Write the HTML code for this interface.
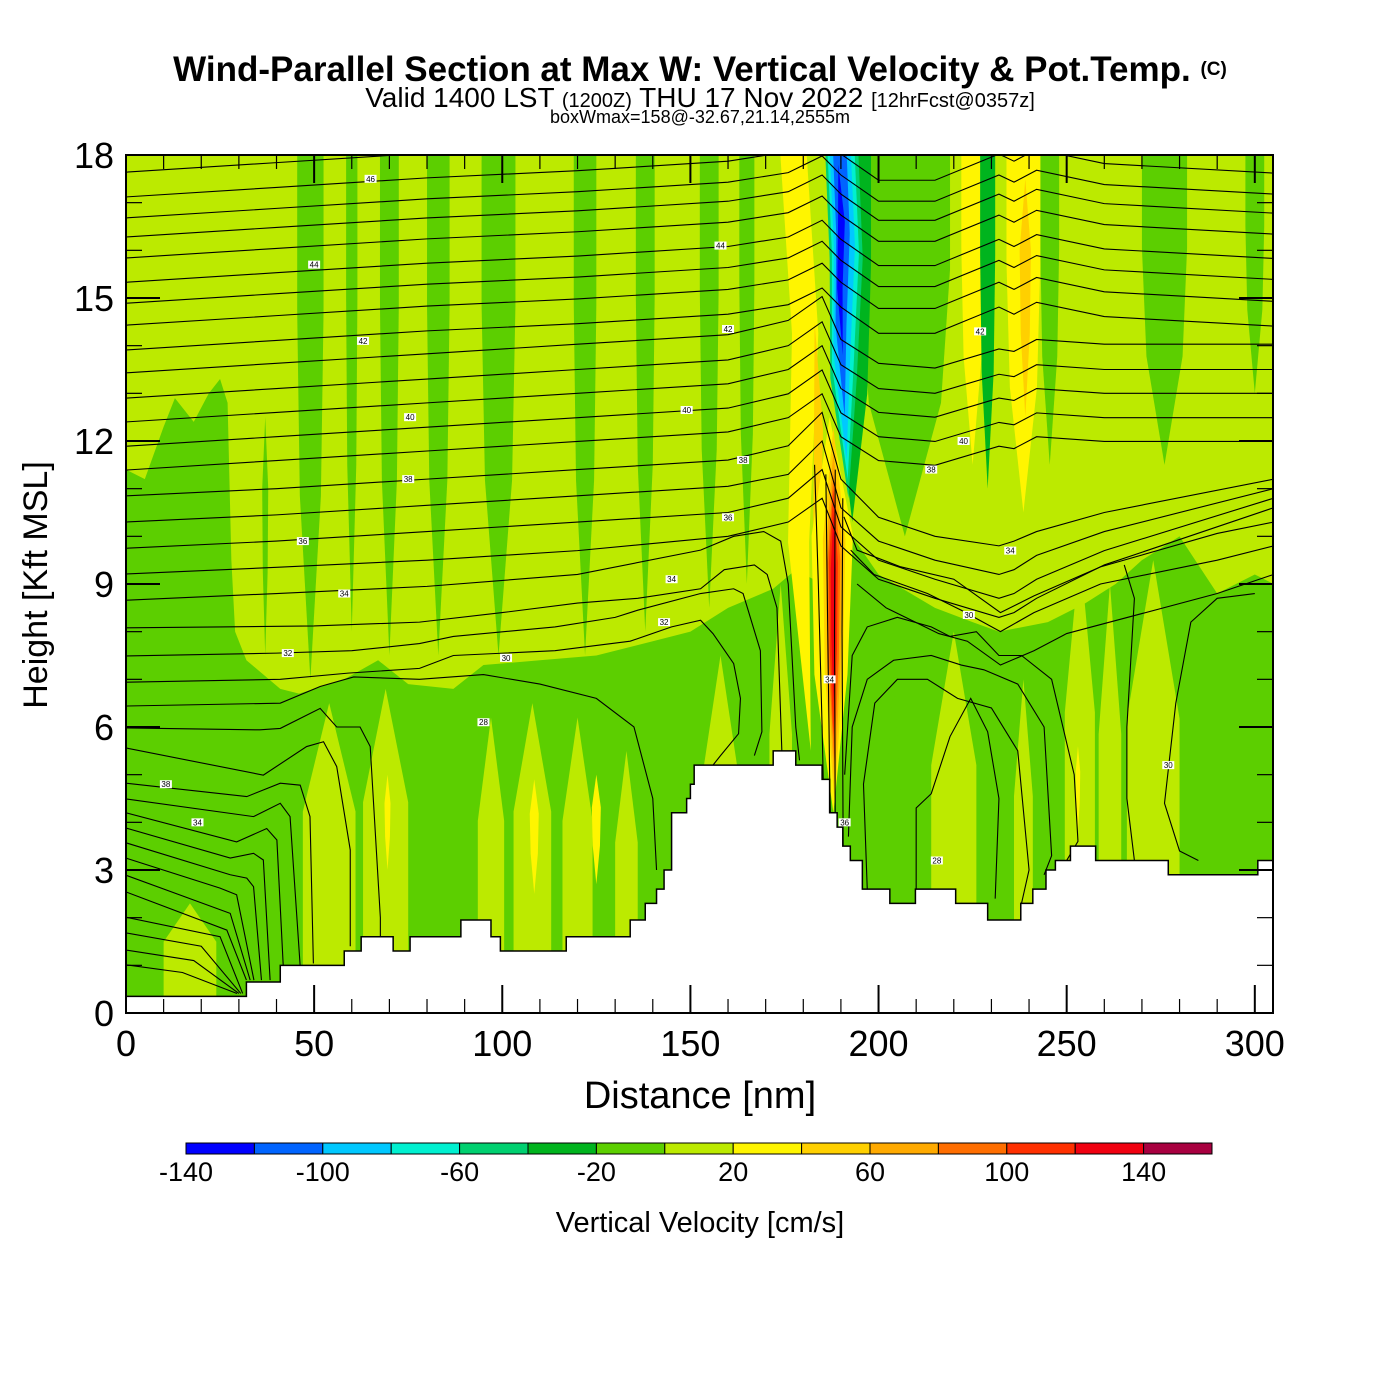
<!DOCTYPE html>
<html><head><meta charset="utf-8"><style>
html,body{margin:0;padding:0;background:#fff}
svg{display:block}
text{font-family:"Liberation Sans",sans-serif}
</style></head><body>
<svg id="chart" width="1400" height="1400" viewBox="0 0 1400 1400">
<text x="700" y="81" font-size="35" font-weight="bold" text-anchor="middle">Wind-Parallel Section at Max W: Vertical Velocity &amp; Pot.Temp. <tspan font-size="19" dy="-6">(C)</tspan></text>
<text x="700" y="107" font-size="28" text-anchor="middle">Valid 1400 LST <tspan font-size="20">(1200Z)</tspan> THU 17 Nov 2022 <tspan font-size="20">[12hrFcst@0357z]</tspan></text>
<text x="700" y="123" font-size="18" text-anchor="middle">boxWmax=158@-32.67,21.14,2555m</text>
<defs><clipPath id="pc"><rect x="126" y="155" width="1147" height="858"/></clipPath></defs>
<g id="plot" clip-path="url(#pc)"></g>
<g id="axes"></g>
<text x="700" y="1108" font-size="38" text-anchor="middle">Distance [nm]</text>
<text transform="translate(47,585) rotate(-90)" font-size="34" text-anchor="middle">Height [Kft MSL]</text>
<g id="cbar"></g>
<text x="700" y="1232" font-size="29" text-anchor="middle">Vertical Velocity [cm/s]</text>
</svg>
<script>
// ---- data ----
const xTicks = [0, 50, 100, 150, 200, 250, 300];
const yTicks = [0, 3, 6, 9, 12, 15, 18];
const cbLabels = [-140, -100, -60, -20, 20, 60, 100, 140];
const wBounds = [-140,-120,-100,-80,-60,-40,-20,0,20,40,60,80,100,120,140,160];
const wColors = ["#0000ff","#0064ff","#00c8ff","#00f0d0","#00d070","#00b41e","#5ccf00","#bcea00","#fff500","#ffd000","#ffaa00","#ff6e00","#ff3000","#f00010","#a80040"];
// green (w<0) region in lower atmosphere: [nm, kft]
const greenRegionNm  = [0,5,10,13,18,22,25,27,28,29,32,41,46,58,67,75,87,95,110,125,140,150,160,172,178,185,190,193,200,215,225,232,245,255,263,270,280,290,300,305,305,0];
const greenRegionKft = [11.4,11.2,12.3,12.9,12.4,13.0,13.3,12.8,9.5,8.0,7.4,6.8,6.7,7.0,7.4,6.9,6.8,7.3,7.4,7.5,7.8,8.0,8.5,8.9,9.3,9.0,8.0,10.0,9.2,8.5,8.2,8.0,8.2,8.6,9.0,9.5,10.0,8.8,9.2,9.0,0,0];
// vertical-velocity streaks
const streakTopNm = [37,49,60,70,83,99,122,138,155,165, 17,54,69,97,108,120,133,158,174, 69.5,125,108.5, 220,238.5,253.5,261.5,273,204, 253, 207,245.5,276,300,225,238.5,239,229, 177,183, 193,190,189.8,189.6,189.5,189.3, 187,188,188,188,188,188];
const streakBotNm = [37,49,60,70,83,99,122,138,155,165, 17,54,69,97,108,120,133,158,174, 69.5,125,108.5, 220,238.5,253.5,261.5,273,204, 253, 207,245.5,276,300,225,238.5,239,229, 182,184.5, 193,192,191.8,191.5,191,190.5, 188,188.3,188.3,188.2,188,188];
const streakHalfNm = [0.8,3.5,1.5,2.5,3,4.5,3,2.5,2.5,2, 7,7,6,3.5,5,4,3,5,3, 0.8,1.2,1.2, 6,2.5,4,3,7,2, 0.6, 12,2.5,6,2.5,3,4.5,1.5,2, 3.5,1.2, 5,4.4,3.6,2.8,1.8,0.9, 5.5,3,2.2,1.7,1.2,0.7];
const streakTopKft = [12.5,18,18,18,18,18,18,18,18,18, 2.3,6.5,6.8,6.2,6.5,6.2,5.5,7.5,9, 5.0,5.0,4.9, 8,7,9.7,9,9.5,7, 5.6, 18,18,18,18,18,18,17.5,18, 18,14.5, 18,18,18,18,18,17.8, 12.5,12.3,11.8,11.3,11,10.5];
const streakBotKft = [7.5,7,8,7.5,7.5,7.5,7.5,8,8.5,9, 0,0,0,0,0,0,0,0,0, 3.0,2.7,2.5, 0,0,0,0,0,0, 3.8, 10,11.5,11.5,13,11.5,10.5,12.5,11, 5.5,7, 10.3,10.8,11.2,11.6,12.5,13.8, 4.2,4.4,4.8,5.3,5.8,6.5];
const streakW = [-10,-10,-10,-10,-10,-10,-10,-10,-10,-10, 10,10,10,10,10,10,10,10,10, 30,30,30, 10,10,10,10,10,-10, 30, -10,-10,-10,-10,30,30,50,-30, 30,50, -30,-50,-70,-90,-110,-130, 30,50,70,90,110,130];
// terrain
const terrainNm  = [0,32,32,41,41,58,58,62.5,62.5,71,71,75.5,75.5,89,89,97,97,99.5,99.5,117,117,134,134,138,138,141,141,143,143,145,145,149,149,150,150,151,151,172,172,178,178,185,185,187,187,189,189,190.5,190.5,192.5,192.5,195.7,195.7,203,203,209.8,209.8,220.5,220.5,229,229,237.8,237.8,241,241,244.5,244.5,247,247,251,251,257.7,257.7,277,277,300.8,300.8,305];
const terrainKft = [0.35,0.35,0.65,0.65,1.0,1.0,1.3,1.3,1.6,1.6,1.3,1.3,1.6,1.6,1.95,1.95,1.6,1.6,1.3,1.3,1.6,1.6,1.95,1.95,2.3,2.3,2.6,2.6,3.0,3.0,4.2,4.2,4.5,4.5,4.8,4.8,5.2,5.2,5.5,5.5,5.2,5.2,4.9,4.9,4.2,4.2,3.9,3.9,3.5,3.5,3.2,3.2,2.6,2.6,2.3,2.3,2.6,2.6,2.3,2.3,1.95,1.95,2.3,2.3,2.6,2.6,3.0,3.0,3.2,3.2,3.5,3.5,3.2,3.2,2.9,2.9,3.2,3.2];
// isentropes crossing the whole section
const isoNodesNm = [0,40,80,120,160,176,185,190,200,215,232,236,242,260,305];
const isoLine1 = [17.64,17.84,18.04,18.2,18.4,18.6,18.9,18.5,18.0,18.0,18.5,18.4,18.6,18.3,18.1];
const isoLine2 = [17.12,17.32,17.52,17.67,17.87,18.07,18.42,18.02,17.47,17.47,18.02,17.87,18.12,17.82,17.62];
const isoLine3 = [16.68,16.88,17.08,17.23,17.43,17.63,17.98,17.58,17.03,17.03,17.58,17.43,17.68,17.38,17.18];
const isoLine4 = [16.28,16.48,16.68,16.83,17.03,17.23,17.58,17.18,16.63,16.63,17.18,17.03,17.28,16.98,16.78];
const isoLine5 = [15.84,16.04,16.24,16.39,16.59,16.79,17.14,16.74,16.19,16.19,16.74,16.59,16.84,16.54,16.34];
const isoLine6 = [15.33,15.53,15.73,15.88,16.08,16.28,16.63,16.23,15.68,15.68,16.23,16.08,16.33,16.03,15.83];
const isoLine7 = [14.89,15.09,15.29,15.44,15.64,15.84,16.19,15.79,15.24,15.24,15.79,15.64,15.89,15.59,15.39];
const isoLine8 = [14.43,14.63,14.83,14.98,15.18,15.38,15.73,15.33,14.78,14.78,15.33,15.18,15.43,15.13,14.93];
const isoLine9 = [13.91,14.11,14.31,14.46,14.66,14.86,15.21,14.81,14.26,14.26,14.81,14.66,14.91,14.61,14.41];
const isoLine10 = [13.43,13.63,13.83,14.03,14.23,14.53,15.03,14.13,13.63,13.53,13.93,13.88,14.13,14.03,14.03];
const isoLine11 = [12.9,13.1,13.3,13.5,13.7,14.0,14.5,13.6,13.1,13.0,13.4,13.35,13.6,13.5,13.5];
const isoLine12 = [12.4,12.6,12.8,13.0,13.2,13.5,14.0,13.1,12.6,12.5,12.9,12.85,13.1,13.0,13.0];
const isoLine13 = [11.89,12.09,12.29,12.49,12.69,12.99,13.49,12.59,12.09,11.99,12.39,12.34,12.59,12.49,12.49];
const isoLine14 = [11.39,11.59,11.79,11.99,12.19,12.49,12.99,12.09,11.59,11.49,11.89,11.84,12.09,11.99,11.99];
const isoLine15 = [10.85,11.0,11.2,11.4,11.6,11.9,12.6,11.2,10.4,10.0,9.8,9.9,10.1,10.5,11.2];
const isoLine16 = [10.3,10.45,10.65,10.85,11.05,11.3,12.0,10.6,9.9,9.5,9.2,9.3,9.6,10.1,11.0];
const isoLine17 = [9.75,9.9,10.1,10.3,10.5,10.8,11.4,10.2,9.5,9.1,8.7,8.8,9.1,9.7,10.8];
const isoLine18 = [9.21,9.35,9.5,9.7,10.0,10.3,10.8,9.8,9.1,8.7,8.3,8.4,8.7,9.4,10.6];
// lower / local isentropes as [nm,kft] pairs
const isoLeftE = [[0,8.66],[40,8.8],[80,8.95],[120,9.2],[152.7,9.71],[161.5,10.0],[169.5,10.1],[174,9.9],[176,9.0],[178,6.0],[179,5.3]];
const isoLeftF = [[0,8.08],[25,8.1],[50,8.12],[78,8.2],[100,8.4],[120,8.6],[136,8.7],[152.7,8.9],[159,9.3],[167,9.4],[170.4,9.2],[173,8.5],[174.3,5.5],[173,5.2]];
const isoLeftG = [[0,7.49],[40,7.55],[60,7.6],[78,7.75],[87,7.9],[114,8.1],[130,8.3],[136,8.45],[152.7,8.8],[161.5,8.9],[164,8.8],[168.6,7.6],[169,5.9],[167,5.4]];
const isoLeftH = [[0,6.94],[41,7.0],[59,7.13],[78,7.23],[87,7.5],[114,7.6],[134,7.8],[145,8.1],[152.7,8.24],[156,7.96],[161.5,7.33],[163.3,6.6],[162.8,5.86],[158,5.4],[156,5.2]];
const isoLow1 = [[0,6.44],[41,6.5],[51.6,6.85],[60.5,7.05],[78,7.0],[95,7.1],[110,6.9],[125,6.6],[135,6.0],[140,4.5],[141,3.0]];
const isoLow2 = [[0,5.98],[35.6,5.94],[41,5.97],[51.6,6.39],[56,6.0],[62.2,6.0],[64.9,5.59],[67.6,2.0],[67.6,1.6]];
const isoLow3 = [[0,5.56],[36.5,4.99],[48,5.59],[52.5,5.69],[56,5.17],[59.6,3.42],[59.6,1.4]];
const isoLow4 = [[0,4.82],[32.1,4.54],[41,4.82],[46.3,4.78],[48.9,4.12],[49.8,1.04]];
const isoLow5 = [[0,4.49],[33.9,4.12],[41,4.4],[43.6,4.12],[46.3,0.97]];
const isoLow6 = [[0,4.2],[29.4,3.59],[37.4,3.87],[40.1,3.63],[41.8,0.97]];
const isoLow7 = [[0,3.88],[27.7,3.25],[33.9,3.35],[36.5,3.21],[38.3,0.69]];
const isoLow8 = [[0,3.57],[27.7,2.9],[32.1,2.83],[33.9,2.65],[36,0.69]];
const isoLow9 = [[0,3.25],[25,2.62],[29.4,2.48],[34,0.69]];
const isoLow10 = [[0,2.89],[27.7,2.09],[33,0.69]];
const isoLow11 = [[0,2.54],[26.8,1.74],[32,0.69]];
const isoLow12 = [[0,2.01],[25,1.6],[31,0.41]];
const isoLow13 = [[0,1.68],[20,1.4],[30.5,0.41]];
const isoLow14 = [[0,1.32],[18,1.1],[30,0.41]];
const isoLow15 = [[0,1.01],[15,0.85],[29.5,0.41]];
const isoJet1 = [[183,11.5],[184,9],[185,6],[185.3,4.9]];
const isoJet2 = [[186,11.3],[186.5,8],[187,5],[187.2,4.2]];
const isoJet3 = [[188.5,11.4],[188.3,8],[188.5,3.9]];
const isoJet4 = [[190.5,10.8],[190.3,8],[190.6,3.5]];
const isoRight1 = [[190.8,10.41],[194.3,9.71],[205.9,9.36],[220,9.1],[232.4,8.4],[241.3,8.75],[259,9.36],[290,10.06],[305,10.3]];
const isoRight2 = [[192.6,9.71],[198.8,9.2],[213,8.8],[222,8.45],[232.4,8.0],[241.3,8.4],[259,9.0],[290,9.5],[305,9.8]];
const isoRight3 = [[194.3,9.0],[202,8.5],[216,7.96],[223.6,7.8],[232.4,7.3],[241.3,7.6],[250,7.96],[290,8.8],[305,9.2]];
const isoDome1 = [[191,5.0],[193,7.5],[197,8.1],[205,8.3],[214,8.1],[219,7.9],[226,8.0],[232,7.5],[238,7.5],[246,7.0],[252,5.0],[253,3.6],[250,3.2]];
const isoDome2 = [[192,3.7],[193,6.0],[197,7.0],[204,7.4],[214,7.5],[222,7.3],[228,7.2],[237,6.9],[244,6.0],[246,3.3],[244,2.9]];
const isoDome3 = [[197,2.6],[196,4.8],[199,6.5],[205,7.0],[213,7.0],[221,6.6],[230,6.4],[237,5.5],[240,3.0],[238,2.3]];
const isoDome4 = [[210,2.6],[210,4.3],[214,4.6],[219,5.8],[224.5,6.6],[229,5.9],[232,4.5],[231,2.4]];
const isoRight4 = [[265.3,9.4],[268,8.7],[266,6.0],[266,4.5],[268,3.2]];
const isoRight5 = [[300,8.8],[290,8.7],[283,8.2],[279,6.5],[276,4.4],[280,3.4],[285,3.2]];
// contour labels
const labelText = ["46","44","44","42","42","42","40","40","40","38","38","38","36","36","34","34","34","32","32","30","30","28","38","34","34","36","30","28"];
const labelNm   = [65,50,158,63,160,227,75.5,149,222.6,75,164,214,47,160,58,145,235,43,143,101,224,95,10.6,19,187,191,277,215.5];
const labelKft  = [17.5,15.7,16.1,14.1,14.35,14.3,12.5,12.65,12.0,11.2,11.6,11.4,9.9,10.4,8.8,9.1,9.7,7.55,8.2,7.45,8.35,6.1,4.8,4.0,7.0,4.0,5.2,3.2];

// ---- scales ----
const X = nm => 126 + nm * 3.7627;
const Y = k => 1013 - k * 47.667;
const NS = "http://www.w3.org/2000/svg";
function mk(tag, attrs, parent){ const e=document.createElementNS(NS,tag); for(const k in attrs) e.setAttribute(k,attrs[k]); parent.appendChild(e); return e; }
function colorOf(w){ let i=Math.floor((w+140)/20); i=Math.max(0,Math.min(14,i)); return wColors[i]; }
const plot = document.getElementById('plot');

const bg = mk('rect',{x:126,y:155,width:1147,height:858,fill:colorOf(10)},plot);


const gp = mk('polygon',{points:greenRegionNm.map((n,i)=>X(n)+','+Y(greenRegionKft[i])).join(' '),fill:colorOf(-10)},plot);


for(let i=0;i<streakW.length;i++){
  const ct=streakTopNm[i], cb=streakBotNm[i], hw=streakHalfNm[i], t=streakTopKft[i], b=streakBotKft[i];
  const pts=[];
  const midF = b<=0 ? 0.35 : 0.3;
  const km1 = t-(t-b)*midF, km2 = b+(t-b)*0.35;
  const cAt = k => cb + (ct-cb)*((t-k)/((t-b)||1));
  if(t>=18){ pts.push([ct-hw,18.5],[ct+hw,18.5]); } else { pts.push([ct,t]); }
  pts.push([cAt(km1)+hw,km1]);
  if(b<=0){ pts.push([cb+hw,-0.5],[cb-hw,-0.5]); } else { pts.push([cAt(km2)+hw*0.8,km2],[cb,b],[cAt(km2)-hw*0.8,km2]); }
  pts.push([cAt(km1)-hw,km1]);
  const p = mk('polygon',{points:pts.map(q=>X(q[0])+','+Y(q[1])).join(' '),fill:colorOf(streakW[i])},plot);
  
  
}
const fullLines=[isoLine1,isoLine2,isoLine3,isoLine4,isoLine5,isoLine6,isoLine7,isoLine8,isoLine9,isoLine10,isoLine11,isoLine12,isoLine13,isoLine14,isoLine15,isoLine16,isoLine17,isoLine18];
fullLines.forEach(arr=>{
  const l = mk('polyline',{points:arr.map((k,i)=>X(isoNodesNm[i])+','+Y(k)).join(' '),fill:'none',stroke:'#000','stroke-width':1.1},plot);
  
  
});
const partLines=[isoLeftE,isoLeftF,isoLeftG,isoLeftH,isoLow1,isoLow2,isoLow3,isoLow4,isoLow5,isoLow6,isoLow7,isoLow8,isoLow9,isoLow10,isoLow11,isoLow12,isoLow13,isoLow14,isoLow15,isoJet1,isoJet2,isoJet3,isoJet4,isoRight1,isoRight2,isoRight3,isoDome1,isoDome2,isoDome3,isoDome4,isoRight4,isoRight5];
partLines.forEach(arr=>{
  const l = mk('polyline',{points:arr.map(q=>X(q[0])+','+Y(q[1])).join(' '),fill:'none',stroke:'#000','stroke-width':1.1},plot);
  
  
});
const tpts = terrainNm.map((n,i)=>X(n)+','+Y(terrainKft[i]));
tpts.push(X(306)+','+Y(3.2), X(306)+','+Y(-1), X(-1)+','+Y(-1), X(-1)+','+Y(0.35));
const tr = mk('polygon',{points:tpts.join(' '),fill:'#fff',stroke:'#000','stroke-width':1.5},plot);


labelText.forEach((s,i)=>{
  const x=X(labelNm[i]), y=Y(labelKft[i]);
  const r = mk('rect',{x:x-6,y:y-4,width:12,height:8,fill:'#fff'},plot);
  
  
  const t = mk('text',{x:x,y:y+3,'font-size':8,'text-anchor':'middle',fill:'#000'},plot);
  t.textContent=s;
  
  
});

const ax=document.getElementById('axes');
const frame = mk('rect',{x:126,y:155,width:1147,height:858,fill:'none',stroke:'#000','stroke-width':2},ax);


for(let n=0;n<=300;n+=10){
  const L = n%50===0 ? 28 : 14, x=X(n);
  const a = mk('line',{x1:x,x2:x,y1:1013,y2:1013-L,stroke:'#000','stroke-width':n%50===0?2:1.2},ax);
  
  
  const b = mk('line',{x1:x,x2:x,y1:155,y2:155+L,stroke:'#000','stroke-width':n%50===0?2:1.2},ax);
  
  
}
for(let k=0;k<=18;k++){
  const L = k%3===0 ? 34 : 16, y=Y(k);
  const a = mk('line',{x1:126,x2:126+L,y1:y,y2:y,stroke:'#000','stroke-width':k%3===0?2:1.2},ax);
  
  
  const b = mk('line',{x1:1273,x2:1273-L,y1:y,y2:y,stroke:'#000','stroke-width':k%3===0?2:1.2},ax);
  
  
}
xTicks.forEach(n=>{
  const t = mk('text',{x:X(n),y:1056,'font-size':36,'text-anchor':'middle'},ax);
  t.textContent=n;
  
  
});
yTicks.forEach(k=>{
  const t = mk('text',{x:114,y:Y(k)+13,'font-size':36,'text-anchor':'end'},ax);
  t.textContent=k;
  
  
});
const cb=document.getElementById('cbar');
const cbX = w => 186 + (w+140)/300*1026;
for(let i=0;i<wColors.length;i++){
  const r = mk('rect',{x:cbX(wBounds[i]),y:1143,width:cbX(wBounds[i+1])-cbX(wBounds[i]),height:11,fill:wColors[i],stroke:'#000','stroke-width':1},cb);
  
  
}
cbLabels.forEach(w=>{
  const t = mk('text',{x:cbX(w),y:1181,'font-size':27,'text-anchor':'middle'},cb);
  t.textContent=w;
  
  
});
</script>
</body></html>
